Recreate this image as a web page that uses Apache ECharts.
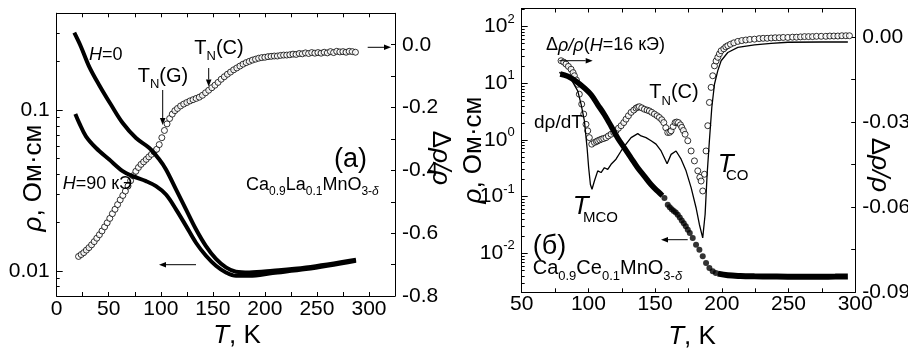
<!DOCTYPE html>
<html><head><meta charset="utf-8">
<script src="https://cdn.jsdelivr.net/npm/echarts@6/dist/echarts.min.js"></script>
<style>html,body{margin:0;padding:0;background:#fff}#c{width:908px;height:350px}</style>
</head><body><div id="c"></div>
<script>
const FONT = '"Liberation Sans", Arial, sans-serif';

// ---------- Panel (a): Ca0.9La0.1MnO3-δ ----------
const rhoH0 = [[16.9,0.303],[23.3,0.248],[31.3,0.186],[40.9,0.143],[52.2,0.108],[63.4,0.0832],[76.2,0.0671],[89,0.0582],[98.6,0.0493],[105,0.0428],[114.6,0.0322],[124.2,0.0242],[133.8,0.0182],[143.4,0.0143],[153,0.0119],[162.6,0.01054],[172.2,0.00991],[185,0.00981],[207.5,0.01005],[239.5,0.01054],[287.5,0.01178]];
const rhoH90 = [[17.9,0.0948],[21.7,0.0832],[28.1,0.0688],[37.8,0.0582],[50.5,0.0493],[63.4,0.0418],[73,0.0389],[85.8,0.0362],[95.4,0.0337],[105,0.0299],[114.6,0.0242],[124.2,0.0191],[133.8,0.0150],[143.4,0.01245],[153,0.0108],[162.6,0.00981],[172.2,0.00935],[185,0.00935],[207.5,0.00973],[239.5,0.01028],[287.5,0.0116]];
const mrA = [[21,-0.674],[23.5,-0.668],[26,-0.662],[28.5,-0.654],[31,-0.646],[33.5,-0.637],[36,-0.627],[38.5,-0.616],[41,-0.605],[43.5,-0.593],[46,-0.580],[48.5,-0.567],[51,-0.553],[53.5,-0.538],[56,-0.524],[58.5,-0.509],[61,-0.494],[63.5,-0.480],[66,-0.466],[68.5,-0.450],[71,-0.433],[73.5,-0.417],[76,-0.403],[78.5,-0.391],[81,-0.381],[83.5,-0.373],[86,-0.365],[88.5,-0.357],[91,-0.349],[93.5,-0.341],[96,-0.333],[98.5,-0.318],[101,-0.296],[103.5,-0.273],[106,-0.252],[108.5,-0.235],[111,-0.221],[113.5,-0.210],[116,-0.203],[119,-0.195],[122,-0.189],[125,-0.184],[128,-0.179],[131,-0.175],[134,-0.171],[137,-0.167],[140,-0.161],[143,-0.153],[146,-0.145],[149,-0.137],[152,-0.129],[155,-0.120],[158,-0.110],[161,-0.102],[164,-0.094],[167,-0.087],[170,-0.080],[173,-0.074],[176,-0.068],[179,-0.062],[182,-0.057],[185,-0.053],[188,-0.049],[191,-0.046],[194,-0.043],[197,-0.041],[200,-0.040],[203,-0.038],[206,-0.037],[209,-0.036],[212,-0.036],[215,-0.034],[218,-0.033],[221,-0.033],[224,-0.032],[227,-0.030],[230,-0.031],[233,-0.028],[236,-0.029],[239,-0.026],[242,-0.028],[245,-0.025],[248,-0.027],[251,-0.025],[254,-0.027],[257,-0.024],[260,-0.026],[263,-0.022],[266,-0.025],[269,-0.021],[272,-0.023],[275,-0.022],[278,-0.024],[281,-0.021],[284,-0.022],[287,-0.024]];

// ---------- Panel (б): Ca0.9Ce0.1MnO3-δ ----------
const rhoCeDense = [[78.9,14.6],[84.5,13.3],[90.7,10.9],[97,8.28],[102,6.31],[107,4.2],[112,2.8],[117,1.75],[122,1.08],[127,0.722],[132,0.481],[137,0.321],[142,0.229],[147,0.163],[152,0.124],[155.5,0.104]];
const rhoCeDots = [[157,0.0946],[159.5,0.0722],[161,0.065],[162.5,0.060],[164,0.056],[165.5,0.0525],[167,0.048],[168.5,0.043],[170,0.038],[171.5,0.034],[173,0.030],[174.5,0.0261],[176,0.0228],[178.2,0.0186],[180.7,0.0142],[183.2,0.0116],[185.7,0.00885],[188.2,0.00675],[190.7,0.00551],[193.2,0.00481],[195.5,0.0045]];
const rhoCeTail = [[197,0.00437],[204.5,0.00409],[214,0.00398],[224.5,0.00393],[237,0.0039],[249.5,0.00387],[262,0.00387],[274.5,0.00387],[285,0.00388],[294.5,0.0039]];
const dRhoDT = [[78.2,-0.0125],[87,-0.0149],[92,-0.0190],[94.5,-0.0237],[97,-0.0296],[99,-0.0390],[100.2,-0.0461],[101.5,-0.0520],[102.7,-0.0537],[104.5,-0.0508],[107,-0.0472],[109.5,-0.0478],[112,-0.0461],[114.5,-0.0467],[117,-0.0449],[120.7,-0.0431],[124.5,-0.0402],[128.2,-0.0378],[132,-0.0355],[137,-0.0341],[139.5,-0.0349],[143.2,-0.0355],[147,-0.0366],[150.7,-0.0378],[154.5,-0.0402],[159,-0.0447],[162,-0.0414],[165.7,-0.0402],[169.5,-0.0431],[173.2,-0.0472],[177,-0.0531],[180.7,-0.0602],[183.2,-0.0661],[185.7,-0.0708],[187.5,-0.0625],[189,-0.0484],[190.7,-0.0366],[192.5,-0.0249],[194.5,-0.0167],[197,-0.0119],[199.5,-0.0084],[204.5,-0.0055],[212,-0.0037],[224.5,-0.0028],[237,-0.0023],[249.5,-0.0019],[274.5,-0.0018],[294.5,-0.0018]];
const mrB = [[79.5,-0.0084],[81.5,-0.0089],[83.2,-0.0096],[85,-0.0104],[87,-0.0114],[88.5,-0.0126],[89.5,-0.0137],[91,-0.0152],[92,-0.0167],[93.2,-0.0202],[95,-0.0237],[96.5,-0.0272],[98.2,-0.0308],[99.5,-0.0331],[100.7,-0.0355],[102.5,-0.0378],[104.5,-0.0372],[106,-0.0369],[107,-0.0366],[108.5,-0.0363],[110,-0.0360],[111.5,-0.0358],[113.2,-0.0355],[115,-0.0349],[117,-0.0343],[119,-0.0337],[120.7,-0.0331],[122.5,-0.0322],[124.5,-0.0313],[126.5,-0.0302],[128.2,-0.0290],[130,-0.0278],[132,-0.0266],[134,-0.0258],[135.7,-0.0251],[137,-0.0248],[138.2,-0.0246],[140,-0.0250],[142,-0.0255],[144,-0.0258],[145.7,-0.0261],[147.5,-0.0266],[149.5,-0.0272],[151.5,-0.0278],[153.2,-0.0284],[155,-0.0292],[156.5,-0.0302],[158,-0.0320],[159.5,-0.0337],[161,-0.0336],[162,-0.0331],[163.5,-0.0316],[165,-0.0302],[166.2,-0.0300],[167.5,-0.0302],[169,-0.0310],[170,-0.0319],[171.2,-0.0330],[172.5,-0.0343],[174.5,-0.0366],[177,-0.0402],[179.5,-0.0437],[182,-0.0472],[183.5,-0.0495],[184.5,-0.0508],[185.7,-0.0543],[187,-0.0484],[188.2,-0.0402],[189.5,-0.0313],[190.7,-0.0231],[192,-0.0178],[193.2,-0.0137],[194.5,-0.0102],[195.7,-0.0085],[197,-0.0072],[198.2,-0.0060],[199.5,-0.0049],[201.5,-0.0042],[203,-0.0035],[204.5,-0.0031],[206.5,-0.0026],[209,-0.0021],[212,-0.0016],[215,-0.0013],[218,-0.0011],[221,-0.0009],[224.5,-0.0008],[228,-0.0006],[231,-0.0005],[234,-0.0005],[237,-0.0004],[240,-0.0003],[243,-0.0003],[246,-0.0002],[249.5,-0.0002],[253,-0.0001],[256,-0.0001],[259,0.0000],[262,0.0001],[265,0.0001],[268,0.0001],[271,0.0002],[274.5,0.0002],[278,0.0002],[281,0.0003],[284,0.0003],[287,0.0003],[290,0.0004],[293,0.0004],[295.7,0.0004]];

// ---------- tick labels ----------
const xLabelsA = [0,50,100,150,200,250,300];
const xTicksA = [0,25,50,75,100,125,150,175,200,225,250,275,300,325];
const yLogLabelsA = [0.01,0.1];
const yLogMinorA = [0.008,0.009,0.02,0.03,0.04,0.05,0.06,0.07,0.08,0.09,0.2,0.3,0.4];
const yRLabelsA = [-0.8,-0.6,-0.4,-0.2,0];
const yRTicksA = [-0.8,-0.7,-0.6,-0.5,-0.4,-0.3,-0.2,-0.1,0];
const xLabelsB = [50,100,150,200,250,300];
const xTicksB = [50,75,100,125,150,175,200,225,250,275,300];
const yLogLabelsB = [0.01,0.1,1,10,100];
const yLogMinorB = [0.003,0.004,0.005,0.006,0.007,0.008,0.009,0.02,0.03,0.04,0.05,0.06,0.07,0.08,0.09,0.2,0.3,0.4,0.5,0.6,0.7,0.8,0.9,2,3,4,5,6,7,8,9,20,30,40,50,60,70,80,90,200];
const yRLabelsB = [-0.09,-0.06,-0.03,0];
const yRTicksB = [-0.09,-0.075,-0.06,-0.045,-0.03,-0.015,0];

const BLACK = '#000';
const lab = (extra) => Object.assign({fontSize:21, fontFamily:FONT, color:BLACK}, extra);

function xAx(grid, min, max, labels, ticks, pos, show, margin) {
  return {type:'value', gridIndex:grid, position:pos, min, max, interval:50,
    axisLine:{show:true, onZero:false, lineStyle:{color:BLACK, width:1}},
    axisTick:{show:true, inside:true, length:4, customValues:ticks, lineStyle:{color:BLACK, width:1}},
    axisLabel:lab({show:show, customValues:labels, margin:margin,
      formatter: v => labels.indexOf(Math.round(v)) >= 0 ? String(Math.round(v)) : ''}),
    splitLine:{show:false}};
}
function yAx(grid, type, min, max, pos, labels, ticks, tickLen, showLabel, fmt, extra) {
  return Object.assign({type, gridIndex:grid, position:pos, min, max, offset:0,
    axisLine:{show:true, onZero:false, lineStyle:{color:BLACK, width:1}},
    axisTick:{show:true, inside:true, length:tickLen, customValues:ticks, lineStyle:{color:BLACK, width:1}},
    axisLabel:lab({show:showLabel, customValues:labels, margin:7, formatter:fmt}),
    splitLine:{show:false}}, extra || {});
}

const chart = echarts.init(document.getElementById('c'), null, {renderer:'canvas'});

// text helpers
const mctx = document.createElement('canvas').getContext('2d');
function tw(t, size, italic) { mctx.font = (italic ? 'italic ' : '') + size + 'px ' + FONT; return mctx.measureText(t).width; }
function txt(t, x, y, size, italic, align, rot, rich) {
  const st = {text:t, fontSize:size, fontFamily:FONT, fontStyle: italic ? 'italic' : 'normal', fill:BLACK,
    align: align || 'left', verticalAlign:'middle', textAlign: align || 'left', textVerticalAlign:'middle'};
  if (rich) st.rich = rich;
  return {type:'text', x, y, rotation: rot || 0, z:100, style: st};
}
function seq(x, y, parts) {
  const out = []; let cx = x;
  parts.forEach(p => { out.push(txt(p[0], cx, y + (p[2] || 0), p[1], p[3])); cx += tw(p[0], p[1], p[3]); });
  return out;
}
function seqC(cx, y, parts) {
  let w = 0; parts.forEach(p => { w += tw(p[0], p[1], p[3]); });
  return seq(cx - w / 2, y, parts);
}
function arrow(x1, y1, x2, y2) {
  const a = Math.atan2(y2 - y1, x2 - x1), L = 7, W = 2.8;
  const bx = x2 - L * Math.cos(a), by = y2 - L * Math.sin(a);
  const px = -Math.sin(a) * W, py = Math.cos(a) * W;
  return [
    {type:'line', z:100, shape:{x1, y1, x2:bx, y2:by}, style:{stroke:BLACK, lineWidth:1}},
    {type:'polygon', z:100, shape:{points:[[x2, y2], [bx + px, by + py], [bx - px, by - py]]}, style:{fill:BLACK}}
  ];
}
const richI = {i:{fontStyle:'italic', fontSize:26, fontFamily:FONT, fill:BLACK, color:BLACK}, n:{fontSize:26, fontFamily:FONT, fill:BLACK, color:BLACK}};

let graphics = [];
// axis titles
graphics = graphics.concat(seqC(237, 336, [['T',26,0,true],[', K',26]]));
graphics = graphics.concat(seqC(692, 337, [['T',26,0,true],[', K',26]]));
graphics.push(txt('{i|ρ}{n|, Ом·см}', 34, 178, 26, false, 'center', Math.PI/2, richI));
graphics.push(txt('{i|ρ}{n|, Ом·см}', 474, 150, 26, false, 'center', Math.PI/2, richI));
graphics.push(txt('{n|Δ}{i|ρ/ρ}', 440, 158, 26, false, 'center', -Math.PI/2, richI));
graphics.push(txt('{n|Δ}{i|ρ/ρ}', 879, 165, 26, false, 'center', -Math.PI/2, richI));
// panel (a) annotations
graphics = graphics.concat(seq(89, 55, [['H',18,0,true],['=0',18]]));
graphics = graphics.concat(seq(137.7, 76, [['T',20],['N',13,8.5],['(G)',20]]));
graphics = graphics.concat(seq(194.3, 48, [['T',20],['N',13,8.5],['(C)',20]]));
graphics = graphics.concat(seq(62.7, 184, [['H',18,0,true],['=90 кЭ',18]]));
graphics.push(txt('(a)', 334, 160, 27));
graphics = graphics.concat(seq(246, 185, [['Ca',18],['0.9',12,7],['La',18],['0.1',12,7],['MnO',18],['3-',12,7],['δ',12,7,true]]));
graphics = graphics.concat(arrow(162.7, 90, 162.7, 125));
graphics = graphics.concat(arrow(208.7, 68, 208.7, 86.5));
graphics = graphics.concat(arrow(196, 264.7, 159, 264.7));
graphics = graphics.concat(arrow(367.7, 47.3, 391, 47.3));
// panel (б) annotations
graphics = graphics.concat(seq(546, 45.5, [['Δ',18],['ρ',18,0,true],['/',18,0,true],['ρ',18,0,true],['(',18],['H',18,0,true],['=16 кЭ)',18]]));
graphics = graphics.concat(seq(649.3, 92.5, [['T',20],['N',13,8.5],['(C)',20]]));
graphics.push(txt('dρ/dT', 534, 123, 19));
graphics.push(txt('T', 572.7, 207, 26, true));
graphics.push(txt('MCO', 583, 217.5, 15));
graphics.push(txt('T', 717.7, 165, 26, true));
graphics.push(txt('CO', 726, 175.5, 15));
graphics.push(txt('(б)', 532.7, 247, 27));
graphics = graphics.concat(seq(532.7, 268, [['Ca',20],['0.9',13,8],['Ce',20],['0.1',13,8],['MnO',20],['3-',13,8],['δ',13,8,true]]));
graphics = graphics.concat(arrow(559.3, 60.7, 592.7, 60.7));
graphics = graphics.concat(arrow(687.7, 239.7, 661, 239.7));

const fmtLogA = v => { const r = parseFloat(v.toPrecision(3)); return yLogLabelsA.indexOf(r) >= 0 ? String(r) : ''; };
const fmtLogB = v => { const e = Math.round(Math.log10(v)); return Math.abs(Math.log10(v) - e) < 1e-6 ? '{b|10}{s|' + e + '}' : ''; };
const fmtRA = v => { const r = Math.round(v * 10) / 10; return Math.abs(v - r) < 1e-6 && r <= 0 && Math.round(r * 10) % 2 === 0 ? r.toFixed(1) : ''; };
const fmtRB = v => { const r = Math.round(v * 100) / 100; return Math.abs(v - r) < 1e-6 && r <= 0 && Math.round(r * 100) % 3 === 0 ? r.toFixed(2) : ''; };
const richLogB = {b:{fontSize:21, fontFamily:FONT, color:BLACK, lineHeight:28, verticalAlign:'middle'}, s:{fontSize:13, fontFamily:FONT, color:BLACK, lineHeight:13, verticalAlign:'top'}};

const option = {
  backgroundColor:'#fff',
  animation:false,
  grid:[
    {left:56.7, top:13.3, width:338.3, height:282.7, containLabel:false, outerBoundsMode:'none'},
    {left:521.7, top:8.5, width:333.5, height:283.8, containLabel:false, outerBoundsMode:'none'}
  ],
  xAxis:[
    xAx(0, 0, 325, xLabelsA, xTicksA, 'bottom', true, 3),
    xAx(0, 0, 325, xLabelsA, xTicksA, 'top', false, 3),
    xAx(1, 50, 300, xLabelsB, xTicksB, 'bottom', true, 1),
    xAx(1, 50, 300, xLabelsB, xTicksB, 'top', false, 1)
  ],
  yAxis:[
    yAx(0, 'log', 0.007, 0.4, 'left', yLogLabelsA, yLogLabelsA, 6, true, fmtLogA, {logBase:10}),
    yAx(0, 'value', -0.8, 0.1, 'right', yRLabelsA, yRTicksA, 4, true, fmtRA, {interval:0.2}),
    yAx(1, 'log', 0.00205, 209, 'left', yLogLabelsB, yLogLabelsB, 6, true, fmtLogB, {logBase:10}),
    yAx(1, 'value', -0.09, 0.01, 'right', yRLabelsB, yRTicksB, 4, true, fmtRB, {interval:0.03}),
    yAx(0, 'log', 0.007, 0.4, 'left', [], yLogMinorA, 3, false, () => '', {logBase:10}),
    yAx(1, 'log', 0.00205, 209, 'left', [], yLogMinorB, 3, false, () => '', {logBase:10})
  ],
  series:[
    {type:'line', xAxisIndex:0, yAxisIndex:0, data:rhoH0, smooth:0.35, symbol:'none', lineStyle:{color:BLACK, width:4}},
    {type:'line', xAxisIndex:0, yAxisIndex:0, data:rhoH90, smooth:0.35, symbol:'none', lineStyle:{color:BLACK, width:4}},
    {type:'scatter', xAxisIndex:0, yAxisIndex:1, data:mrA, symbol:'circle', symbolSize:6, itemStyle:{color:'#fff', borderColor:BLACK, borderWidth:1}},
    {type:'line', xAxisIndex:2, yAxisIndex:2, data:rhoCeDense, smooth:0.35, symbol:'none', lineStyle:{color:BLACK, width:5.5}},
    {type:'scatter', xAxisIndex:2, yAxisIndex:2, data:rhoCeDots, symbol:'circle', symbolSize:6, itemStyle:{color:BLACK}},
    {type:'line', xAxisIndex:2, yAxisIndex:2, data:rhoCeTail, smooth:0.35, symbol:'none', lineStyle:{color:BLACK, width:6}},
    {type:'line', xAxisIndex:2, yAxisIndex:3, data:dRhoDT, smooth:false, symbol:'none', lineStyle:{color:BLACK, width:1.3}},
    {type:'scatter', xAxisIndex:2, yAxisIndex:3, data:mrB, symbol:'circle', symbolSize:6, itemStyle:{color:'#fff', borderColor:BLACK, borderWidth:1}}
  ],
  graphic:{elements:graphics}
};
option.yAxis[2].axisLabel.rich = richLogB;
chart.setOption(option);
</script></body></html>
